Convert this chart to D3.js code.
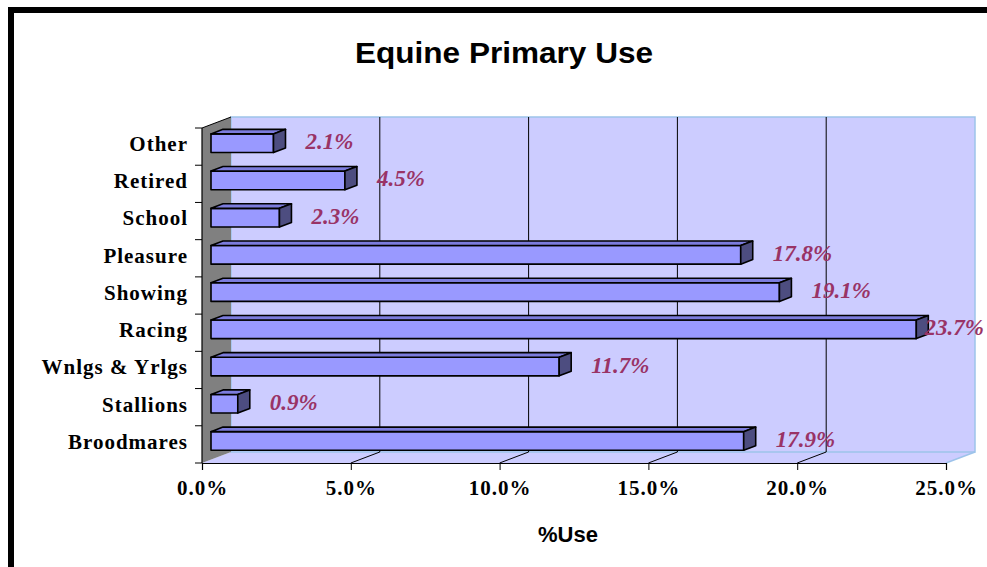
<!DOCTYPE html>
<html>
<head>
<meta charset="utf-8">
<script src="https://cdn.jsdelivr.net/npm/d3@7"></script>
<style>
  html, body { margin: 0; padding: 0; background: #ffffff; }
  svg { display: block; }
</style>
</head>
<body>
<svg id="chart" width="987" height="567"></svg>
<script>
// ---- data ----
const categories = ["Broodmares", "Stallions", "Wnlgs & Yrlgs", "Racing", "Showing", "Pleasure", "School", "Retired", "Other"];
const values = [17.9, 0.9, 11.7, 23.7, 19.1, 17.8, 2.3, 4.5, 2.1];
const xTicks = [0, 5, 10, 15, 20, 25];
const xTickLabels = ["0.0%", "5.0%", "10.0%", "15.0%", "20.0%", "25.0%"];
const chartTitle = "Equine Primary Use";
const xTitle = "%Use";

(function () {
// ---- layout ----
const svg = d3.select("#chart");
const pl = 202, pr = 946, pt = 128, pb = 463;
const DX = 29, DY = -11;            // depth projection of the back wall
const d0 = 9 / 29, d1 = 21 / 29;    // bar depth (front / back)

const x = d3.scaleLinear().domain([0, 25]).range([pl, pr]);
const y = d3.scaleBand().domain(categories).range([pb, pt])
  .paddingInner(0.5).paddingOuter(0.25);

const P = (v, yy, d) => [x(v) + d * DX, yy + d * DY];
const poly = pts => pts.map(p => p.join(",")).join(" ");

// outer frame
svg.append("rect").attr("x", 11).attr("y", 10).attr("width", 1000).attr("height", 600)
  .attr("fill", "none").attr("stroke", "#000").attr("stroke-width", 6);

// title
svg.append("text").attr("x", 504).attr("y", 63).attr("text-anchor", "middle")
  .attr("font-family", "Liberation Sans, Arial, sans-serif").attr("font-weight", "bold")
  .attr("font-size", 29).attr("textLength", 298).attr("lengthAdjust", "spacingAndGlyphs")
  .text(chartTitle);

// floor
svg.append("polygon")
  .attr("points", poly([P(0, pb, 0), P(25, pb, 0), P(25, pb, 1), P(0, pb, 1)]))
  .attr("fill", "#CCCCFF").attr("stroke", "none");
// back wall
svg.append("polygon")
  .attr("points", poly([P(0, pt, 1), P(25, pt, 1), P(25, pb, 1), P(0, pb, 1)]))
  .attr("fill", "#CCCCFF").attr("stroke", "#9DC3EA").attr("stroke-width", 1.5);
// right floor edge
svg.append("line")
  .attr("x1", P(25, pb, 0)[0]).attr("y1", P(25, pb, 0)[1])
  .attr("x2", P(25, pb, 1)[0]).attr("y2", P(25, pb, 1)[1])
  .attr("stroke", "#9DC3EA").attr("stroke-width", 1.5);
// left side wall
svg.append("polygon")
  .attr("points", poly([P(0, pt, 0), P(0, pt, 1), P(0, pb, 1), P(0, pb, 0)]))
  .attr("fill", "#808080").attr("stroke", "none");
svg.append("line")
  .attr("x1", P(0, pt, 0)[0]).attr("y1", P(0, pt, 0)[1])
  .attr("x2", P(0, pt, 1)[0]).attr("y2", P(0, pt, 1)[1])
  .attr("stroke", "#000").attr("stroke-width", 1);

// gridlines on back wall and floor
xTicks.filter(v => v > 0 && v < 25).forEach(v => {
  svg.append("line")
    .attr("x1", P(v, pt, 1)[0]).attr("y1", P(v, pt, 1)[1])
    .attr("x2", P(v, pb, 1)[0]).attr("y2", P(v, pb, 1)[1])
    .attr("stroke", "#000").attr("stroke-width", 1);
  svg.append("line")
    .attr("x1", P(v, pb, 0)[0]).attr("y1", P(v, pb, 0)[1])
    .attr("x2", P(v, pb, 1)[0]).attr("y2", P(v, pb, 1)[1])
    .attr("stroke", "#000").attr("stroke-width", 1);
});

// axes (front plane)
const xAxis = d3.axisBottom(x).tickValues(xTicks).tickSize(7)
  .tickFormat((d, i) => xTickLabels[i]);
const gx = svg.append("g").attr("transform", `translate(0,${pb})`).call(xAxis);
gx.select(".domain").attr("stroke", "#000").attr("stroke-width", 1.2);
gx.selectAll(".tick line").attr("stroke", "#000");
gx.selectAll(".tick text")
  .attr("font-family", "Liberation Serif, Times New Roman, serif").attr("font-weight", "bold")
  .attr("font-size", 21).attr("letter-spacing", 1).attr("fill", "#000").attr("dy", "1.05em");

const yEdge = d3.scaleLinear().domain([0, categories.length]).range([pb, pt]);
const gy = svg.append("g");
gy.append("line").attr("x1", pl).attr("x2", pl).attr("y1", pt).attr("y2", pb)
  .attr("stroke", "#000").attr("stroke-width", 1.2);
d3.range(categories.length + 1).forEach(i => {
  gy.append("line").attr("x1", pl - 7).attr("x2", pl)
    .attr("y1", yEdge(i)).attr("y2", yEdge(i)).attr("stroke", "#000");
});
gy.selectAll("text.cat").data(categories).join("text").attr("class", "cat")
  .attr("x", 188).attr("y", d => y(d) + y.bandwidth() / 2 - 3)
  .attr("dy", "0.35em").attr("text-anchor", "end")
  .attr("font-family", "Liberation Serif, Times New Roman, serif").attr("font-weight", "bold")
  .attr("font-size", 21).attr("letter-spacing", 1).attr("fill", "#000")
  .text(d => d);

// bars
const bars = svg.append("g");
categories.forEach((c, i) => {
  const v = values[i];
  const yt = y(c), yb = y(c) + y.bandwidth();
  const g = bars.append("g");
  g.append("polygon")
    .attr("points", poly([P(0, yt, d0), P(v, yt, d0), P(v, yb, d0), P(0, yb, d0)]))
    .attr("fill", "#9999FF").attr("stroke", "#000").attr("stroke-width", 1.6).attr("stroke-linejoin", "round");
  g.append("polygon")
    .attr("points", poly([P(0, yt, d0), P(v, yt, d0), P(v, yt, d1), P(0, yt, d1)]))
    .attr("fill", "#7C7CDD").attr("stroke", "#000").attr("stroke-width", 1.6).attr("stroke-linejoin", "round");
  g.append("polygon")
    .attr("points", poly([P(v, yt, d0), P(v, yt, d1), P(v, yb, d1), P(v, yb, d0)]))
    .attr("fill", "#4D4D80").attr("stroke", "#000").attr("stroke-width", 1.6).attr("stroke-linejoin", "round");
});

// data labels (kept inside the picture)
svg.append("g").selectAll("text").data(categories).join("text")
  .attr("y", c => y(c) + y.bandwidth() / 2 + d0 * DY + 6)
  .attr("font-family", "Liberation Serif, Times New Roman, serif")
  .attr("font-weight", "bold").attr("font-style", "italic")
  .attr("font-size", 23).attr("fill", "#993366")
  .text((c, i) => values[i].toFixed(1) + "%")
  .attr("x", function (c, i) {
    const w = this.getComputedTextLength();
    return Math.min(P(values[i], 0, d1)[0] + 20, 984 - w);
  });

// x title
svg.append("text").attr("x", 568).attr("y", 542).attr("text-anchor", "middle")
  .attr("font-family", "Liberation Sans, Arial, sans-serif").attr("font-weight", "bold")
  .attr("font-size", 22).text(xTitle);
})();
</script>
</body>
</html>
